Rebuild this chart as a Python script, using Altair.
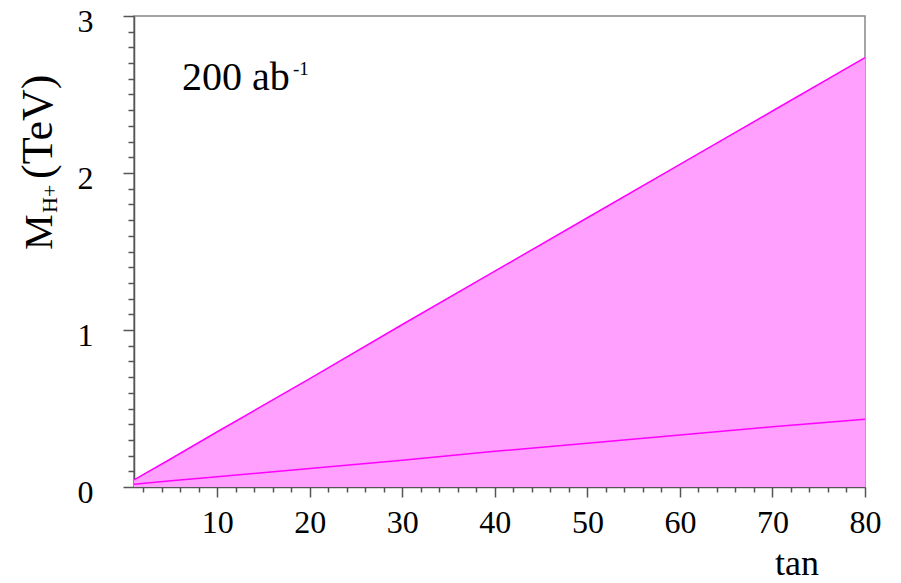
import altair as alt
import pandas as pd

# --- data ---
tan_beta = [1, 5, 10, 20, 30, 40, 50, 60, 70, 80]
upper_mass = [0.045, 0.18, 0.352, 0.69, 1.035, 1.375, 1.715, 2.055, 2.395, 2.735]
lower_mass = [0.018, 0.04, 0.066, 0.118, 0.17, 0.227, 0.278, 0.331, 0.384, 0.432]

x_ticks = list(range(2, 81, 2))
y_ticks = [round(i * 0.1, 1) for i in range(31)]

df = pd.DataFrame({"tan": tan_beta, "upper": upper_mass, "lower": lower_mass})

FONT = "Times New Roman"
W, H = 731, 471

xs = alt.Scale(domain=[1, 80], nice=False, zero=False)
ys = alt.Scale(domain=[0, 3], nice=False, zero=False)

def x_axis():
    return alt.Axis(
        values=x_ticks,
        labelExpr="datum.value % 10 === 0 ? format(datum.value, 'd') : ''",
        tickSize={"condition": {"test": "datum.value % 10 === 0", "value": 10}, "value": 5},
        title=None, grid=False, labelFont=FONT, labelFontSize=32, labelColor="black",
        labelPadding=10, domainColor="#555", domainWidth=1.5, tickColor="#555", tickWidth=1.5,
        labelFlush=False, labelOverlap=False,
    )

def y_axis():
    return alt.Axis(
        values=y_ticks,
        labelExpr="abs(datum.value - round(datum.value)) < 0.001 ? format(datum.value, 'd') : ''",
        tickSize={"condition": {"test": "abs(datum.value - round(datum.value)) < 0.001", "value": 11}, "value": 6},
        title=None, grid=False, labelFont=FONT, labelFontSize=32, labelColor="black",
        labelPadding=30, labelOffset=5, domainColor="#555", domainWidth=1.5, tickColor="#555", tickWidth=1.5,
        labelFlush=False, labelOverlap=False,
    )

base = alt.Chart(df)

area = base.mark_area(color="#FFA0FF", opacity=1).encode(
    x=alt.X("tan:Q", scale=xs, axis=x_axis()),
    y=alt.Y("upper:Q", scale=ys, axis=y_axis()),
    y2=alt.datum(0),
)
line_up = base.mark_line(color="#FF00FF", strokeWidth=1.5).encode(
    x=alt.X("tan:Q", scale=xs, axis=x_axis()), y=alt.Y("upper:Q", scale=ys, axis=y_axis())
)
line_lo = base.mark_line(color="#FF00FF", strokeWidth=1.5).encode(
    x=alt.X("tan:Q", scale=xs, axis=x_axis()), y=alt.Y("lower:Q", scale=ys, axis=y_axis())
)

def txt(s, x, y, size, angle=0, baseline="alphabetic", font=FONT):
    return alt.Chart(pd.DataFrame({"t": [s]})).mark_text(
        font=font, fontSize=size, color="black", align="left", baseline=baseline, angle=angle
    ).encode(text="t:N", x=alt.value(x), y=alt.value(y))

lumi = txt("200 ab", 48, 74, 40)
lumi_sup = txt("-1", 159, 59, 19)
ytitle_m = txt("M", -82, 234, 40, angle=270)
ytitle_sub = txt("H+", -77, 197, 22, angle=270)
ytitle_rest = txt("(TeV)", -82, 163, 44, angle=270)
xtitle = txt("tan", 641, 559, 36)

chart = alt.layer(
    area, line_up, line_lo, lumi, lumi_sup, ytitle_m, ytitle_sub, ytitle_rest, xtitle
).properties(
    width=W, height=H,
    autosize=alt.AutoSizeParams(type="none"),
    padding={"left": 126, "top": 8, "right": 20, "bottom": 88},
).configure_view(stroke="#888", strokeWidth=1.5)

chart.save("out.html", embed_options={"renderer": "svg", "actions": False})
